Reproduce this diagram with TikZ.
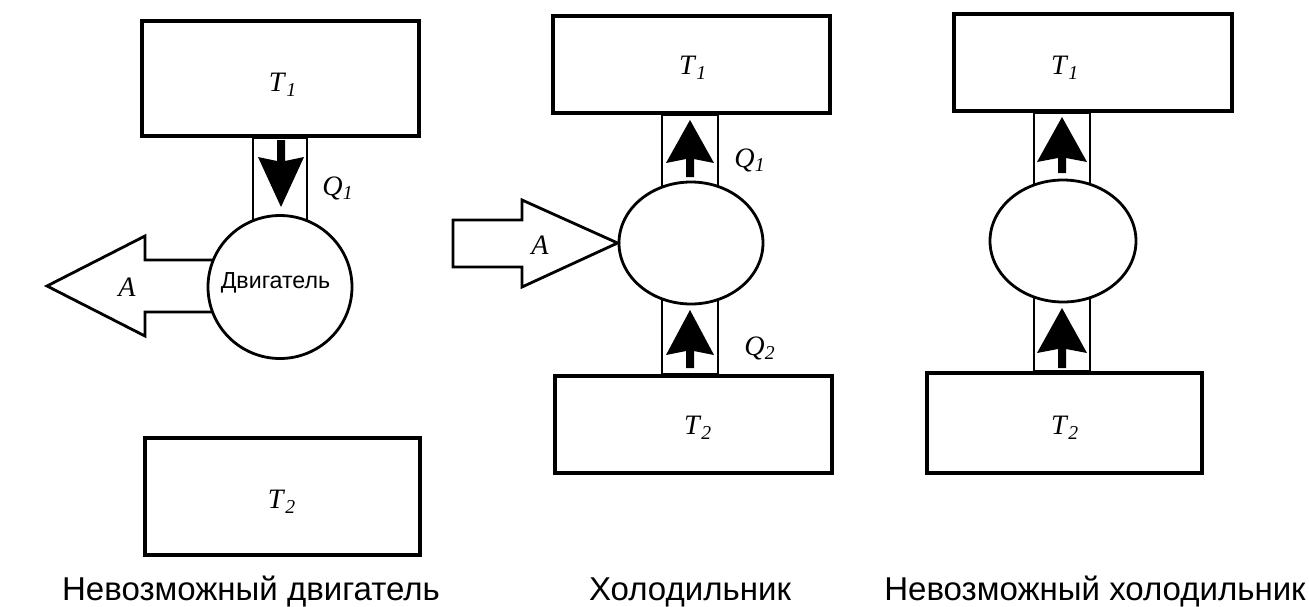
\documentclass[tikz,border=0pt]{standalone}
\usepackage{fontspec}
\setmainfont{Liberation Serif}
\newfontfamily\capfont{Liberation Sans}
\usetikzlibrary{shapes.geometric,backgrounds}
\newcommand\heatarrow[6]{% cx, tip, base, junction, end, half width
  \fill (#1,#2) -- (#1+#6,#3) -- (#1+4,#4) -- (#1+4,#5) -- (#1-4,#5) -- (#1-4,#4) -- (#1-#6,#3) -- cycle;}
\newcommand\Tl[1]{\textit{T}\textsubscript{\textit{#1}}}
\newcommand\Ql[1]{\textit{Q}\textsubscript{\textit{#1}}}
\begin{document}
\begin{tikzpicture}[x=0.02cm,y=-0.02cm,
  res/.style={draw,line width=1.8pt,fill=white,inner sep=0pt,rectangle},
  body/.style={draw,line width=1.6pt,fill=white,inner sep=0pt,ellipse},
  chan/.style={draw,line width=1.6pt,fill=white},
  fat/.style={draw,line width=1.6pt,fill=white,line join=miter},
  lab/.style={inner sep=0pt,font=\fontsize{16}{16}\selectfont},
  captext/.style={inner sep=0pt,anchor=base,font=\capfont\fontsize{18.8}{18.8}\selectfont},
  eng/.style={inner sep=0pt,anchor=base,font=\capfont\fontsize{13.2}{13.2}\selectfont}]
\useasboundingbox (0,0) rectangle (1309,606);
\begin{pgfonlayer}{background}
  \fill[white] (0,0) rectangle (1309,606);
\end{pgfonlayer}

% ---------- panel 1 ----------
\node[res,minimum width=277*0.02cm,minimum height=115*0.02cm] (T1a) at (280.5,78.5) {};
\node[res,minimum width=275*0.02cm,minimum height=117*0.02cm] (T2a) at (282.5,496.5) {};
\node[body,minimum width=144*0.02cm,minimum height=143*0.02cm] (Ea) at (280,287) {};
\coordinate (a1) at (253,0); \coordinate (a2) at (307,0);
\coordinate (ay1) at (0,260); \coordinate (ay2) at (0,312);
\begin{pgfonlayer}{background}
  \draw[chan] (T1a.south -| a1) rectangle (Ea.center -| a2);
  \draw[fat] (Ea.center |- ay1) -- (145,260) -- (145,236) -- (47,286) -- (145,336) -- (145,312) -- (Ea.center |- ay2) -- cycle;
\end{pgfonlayer}
\heatarrow{281}{207}{157}{161}{140}{23}
\node[lab] (t1a) at (283,85) {\Tl{1}};
\node[lab] (t2a) at (282,502) {\Tl{2}};
\node[lab] (q1a) at (338,188) {\Ql{1}};
\node[lab] (aa) at (127,287) {\textit{A}};
\node[eng] (ea) at (275.5,288) {Двигатель};
\node[captext] (c1) at (251,600) {Невозможный двигатель};

% ---------- panel 2 ----------
\node[res,minimum width=277*0.02cm,minimum height=97*0.02cm] (T1b) at (691.5,64.5) {};
\node[res,minimum width=277*0.02cm,minimum height=97*0.02cm] (T2b) at (693.5,424.5) {};
\node[body,minimum width=144*0.02cm,minimum height=122*0.02cm] (Eb) at (691,243) {};
\coordinate (b1) at (662,0); \coordinate (b2) at (718,0);
\begin{pgfonlayer}{background}
  \draw[chan] (T1b.south -| b1) rectangle (Eb.center -| b2);
  \draw[chan] (T2b.north -| b1) rectangle (Eb.center -| b2);
\end{pgfonlayer}
\draw[fat] (453,220) -- (522,220) -- (522,200) -- (Eb.west) -- (522,287) -- (522,267) -- (453,267) -- cycle;
\heatarrow{690}{120}{163}{159}{177}{24}
\heatarrow{690}{310}{355}{351}{368}{24}
\node[lab] (t1b) at (693,68) {\Tl{1}};
\node[lab] (t2b) at (698,428) {\Tl{2}};
\node[lab] (q1b) at (750,160) {\Ql{1}};
\node[lab] (q2b) at (760,348) {\Ql{2}};
\node[lab] (ab) at (540,245) {\textit{A}};
\node[captext] (c2) at (690,600) {Холодильник};

% ---------- panel 3 ----------
\node[res,minimum width=278*0.02cm,minimum height=97*0.02cm] (T1c) at (1093,62.5) {};
\node[res,minimum width=275*0.02cm,minimum height=100*0.02cm] (T2c) at (1064.5,423) {};
\node[body,minimum width=146*0.02cm,minimum height=122*0.02cm] (Ec) at (1063,241) {};
\coordinate (c1l) at (1034,0); \coordinate (c1r) at (1090,0);
\begin{pgfonlayer}{background}
  \draw[chan] (T1c.south -| c1l) rectangle (Ec.center -| c1r);
  \draw[chan] (T2c.north -| c1l) rectangle (Ec.center -| c1r);
\end{pgfonlayer}
\heatarrow{1062}{117}{162}{158}{173}{25}
\heatarrow{1062}{308}{353}{349}{368}{25}
\node[lab] (t1c) at (1065,68) {\Tl{1}};
\node[lab] (t2c) at (1065,428) {\Tl{2}};
\node[captext] (c3) at (1095,600) {Невозможный холодильник};
\end{tikzpicture}
\end{document}
